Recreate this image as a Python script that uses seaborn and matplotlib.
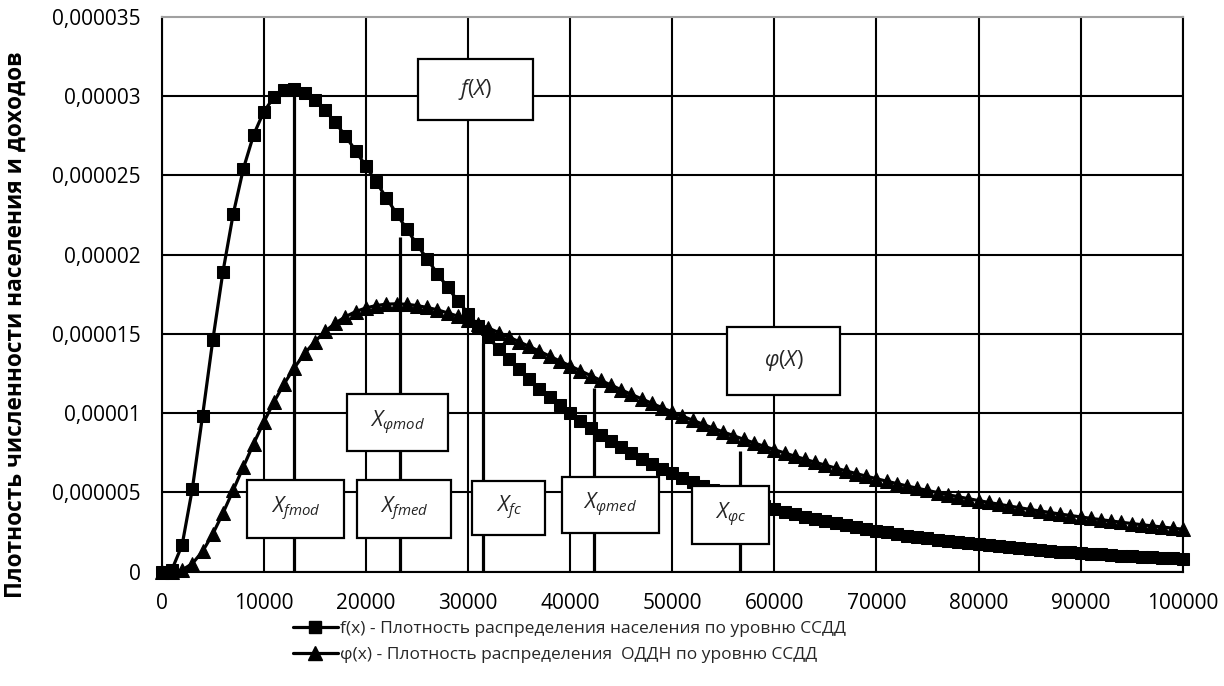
import matplotlib
matplotlib.use("Agg")
import matplotlib.pyplot as plt
import matplotlib.patches as mpatches
from matplotlib.lines import Line2D
import pandas as pd
import seaborn as sns

# ---------------- data ----------------
income = list(range(0, 100001, 1000))

# f(x): population density by income level (units of 1e-6)
f_micro = [0.0, 0.128, 1.683, 5.215, 9.825, 14.58, 18.91, 22.54, 25.41, 27.54, 29.01,
           29.92, 30.37, 30.44, 30.21, 29.74, 29.10, 28.33, 27.47, 26.54, 25.57,
           24.58, 23.58, 22.58, 21.60, 20.64, 19.71, 18.80, 17.93, 17.09, 16.28,
           15.51, 14.77, 14.06, 13.39, 12.75, 12.14, 11.55, 11.00, 10.48, 9.980,
           9.508, 9.059, 8.633, 8.228, 7.845, 7.480, 7.135, 6.807, 6.495, 6.200,
           5.919, 5.652, 5.399, 5.159, 4.930, 4.713, 4.507, 4.311, 4.124, 3.947,
           3.778, 3.617, 3.464, 3.318, 3.180, 3.047, 2.921, 2.801, 2.687, 2.578,
           2.474, 2.374, 2.280, 2.189, 2.103, 2.020, 1.942, 1.866, 1.794, 1.726,
           1.660, 1.597, 1.536, 1.479, 1.424, 1.371, 1.320, 1.272, 1.225, 1.181,
           1.138, 1.097, 1.058, 1.021, 0.984, 0.950, 0.917, 0.885, 0.854, 0.825]

# phi(x): income density (units of 1e-6)
phi_micro = [0.0, 0.004, 0.110, 0.510, 1.280, 2.374, 3.693, 5.136, 6.615, 8.065, 9.440,
             10.71, 11.86, 12.87, 13.76, 14.51, 15.15, 15.67, 16.08, 16.40, 16.63,
             16.78, 16.87, 16.89, 16.86, 16.78, 16.66, 16.51, 16.32, 16.11, 15.88,
             15.63, 15.36, 15.08, 14.80, 14.50, 14.20, 13.90, 13.59, 13.28, 12.98,
             12.67, 12.37, 12.06, 11.77, 11.47, 11.18, 10.90, 10.62, 10.34, 10.07,
             9.810, 9.552, 9.300, 9.053, 8.812, 8.577, 8.348, 8.124, 7.907, 7.694,
             7.488, 7.287, 7.091, 6.900, 6.715, 6.535, 6.360, 6.189, 6.024, 5.863,
             5.707, 5.555, 5.407, 5.263, 5.124, 4.989, 4.857, 4.729, 4.605, 4.485,
             4.367, 4.254, 4.143, 4.036, 3.931, 3.830, 3.732, 3.636, 3.543, 3.453,
             3.365, 3.280, 3.197, 3.117, 3.038, 2.962, 2.888, 2.817, 2.747, 2.679]

# characteristic points (drop lines)
marker_x = [13000, 23300, 31500, 42300, 56600]
marker_top_micro = [30.4, 21.1, 14.4, 11.6, 7.6]

x_ticks = list(range(0, 100001, 10000))
y_ticks = [0, 5e-6, 10e-6, 15e-6, 20e-6, 25e-6, 30e-6, 35e-6]
y_tick_labels = ['0', '0,000005', '0,00001', '0,000015', '0,00002',
                 '0,000025', '0,00003', '0,000035']

label_f = 'f(x) - Плотность распределения населения по уровню ССДД'
label_phi = 'φ(x) - Плотность распределения  ОДДН по уровню ССДД'
y_label = 'Плотность численности населения и доходов'

# annotation boxes: text, x0, x1, y0, y1 (data units, y in 1e-6)
boxes = [
    (r'$f(X)$', 25100, 36370, 28.48, 32.35),
    (r'$\varphi(X)$', 55400, 66430, 11.16, 15.45),
    (r'$X_{\varphi mod}$', 18120, 28070, 7.61, 11.20),
    (r'$X_{fmod}$', 8380, 17880, 2.14, 5.78),
    (r'$X_{fmed}$', 19160, 28340, 2.12, 5.78),
    (r'$X_{fc}$', 30420, 37560, 2.31, 5.72),
    (r'$X_{\varphi med}$', 39180, 48660, 2.46, 5.99),
    (r'$X_{\varphi c}$', 51940, 59430, 1.73, 5.42),
]

df = pd.DataFrame({
    'x': income,
    'f': [v * 1e-6 for v in f_micro],
    'phi': [v * 1e-6 for v in phi_micro],
})

# ---------------- style ----------------
sns.set_theme(style='white')
FONT = 'Open Sans'
plt.rcParams['font.family'] = [FONT, 'DejaVu Sans']
plt.rcParams['mathtext.fontset'] = 'custom'
plt.rcParams['mathtext.rm'] = FONT
plt.rcParams['mathtext.it'] = FONT + ':italic'
plt.rcParams['mathtext.bf'] = FONT + ':bold'

fig = plt.figure(figsize=(12.24, 6.86), dpi=100)
ax = fig.add_axes([0.1321, 0.1666, 0.8342, 0.8092])

sns.lineplot(data=df, x='x', y='f', ax=ax, color='black', marker='s',
             markersize=9, markeredgecolor='black', linewidth=2.3,
             clip_on=False, zorder=5, legend=False)
sns.lineplot(data=df, x='x', y='phi', ax=ax, color='black', marker='^',
             markersize=10.5, markeredgecolor='black', linewidth=2.3,
             clip_on=False, zorder=5, legend=False)

ax.vlines(marker_x, 0, [v * 1e-6 for v in marker_top_micro],
          color='black', linewidth=2.3, zorder=4)

for txt, x0, x1, y0, y1 in boxes:
    rect = mpatches.Rectangle((x0, y0 * 1e-6), x1 - x0, (y1 - y0) * 1e-6,
                              facecolor='white', edgecolor='black',
                              linewidth=1.6, zorder=7)
    ax.add_patch(rect)
    ax.text((x0 + x1) / 2, (y0 + y1) / 2 * 1e-6, txt, ha='center', va='center',
            fontsize=15.5, zorder=8)

ax.set_xlim(0, 100000)
ax.set_ylim(0, 35e-6)
ax.set_xticks(x_ticks)
ax.set_xticklabels([str(v) for v in x_ticks])
ax.set_yticks(y_ticks)
ax.set_yticklabels(y_tick_labels)
ax.tick_params(axis='both', length=0, labelsize=15, colors='black')
ax.tick_params(axis='y', pad=15)
ax.tick_params(axis='x', pad=15)

ax.grid(True, color='black', linewidth=1.5, zorder=1)
ax.set_axisbelow(True)
for gl in ax.yaxis.get_gridlines()[-1:]:
    gl.set_visible(False)
for s in ['left', 'right', 'bottom']:
    ax.spines[s].set_color('black')
    ax.spines[s].set_linewidth(1.5)
ax.spines['top'].set_color('#a0a0a0')
ax.spines['top'].set_linewidth(1.5)

ax.set_xlabel('')
ax.set_ylabel(y_label, fontsize=16.3, fontweight='bold', color='black')
ax.yaxis.set_label_coords(-0.131, 0.444)

handles = [
    Line2D([], [], color='black', marker='s', markersize=9, linewidth=2.3),
    Line2D([], [], color='black', marker='^', markersize=10.5, linewidth=2.3),
]
fig.legend(handles, [label_f, label_phi], loc='upper left',
           bbox_to_anchor=(0.239, 0.095), bbox_transform=fig.transFigure,
           frameon=False, fontsize=12.5, handlelength=2.6, handletextpad=0.15,
           labelspacing=0.55, borderpad=0, borderaxespad=0)

fig.savefig('out.png', dpi=100)
